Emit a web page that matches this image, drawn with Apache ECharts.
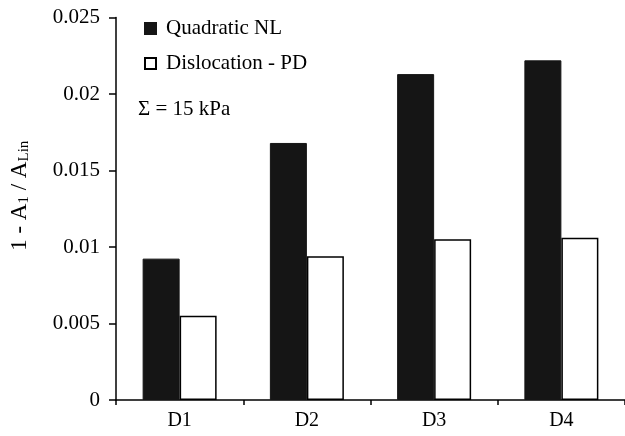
<!DOCTYPE html>
<html>
<head>
<meta charset="utf-8">
<script src="https://cdn.jsdelivr.net/npm/echarts@6/dist/echarts.min.js"></script>
<style>
  html, body { margin: 0; padding: 0; background: #fff; }
  #chart { width: 625px; height: 436px; }
</style>
</head>
<body>
<div id="chart"></div>
<script>
const categories = ['D1', 'D2', 'D3', 'D4']
const quadraticNL = [0.00924, 0.0168, 0.0213, 0.0222]
const dislocationPD = [0.0055, 0.0094, 0.0105, 0.0106]

const font = 'Liberation Serif'
const chart = echarts.init(document.getElementById('chart'))

const option = {
  backgroundColor: '#fff',
  animation: false,
  textStyle: { fontFamily: font, color: '#000' },
  grid: { left: 116, right: 0, top: 17.5, bottom: 36, outerBoundsMode: 'none' },
  legend: {
    orient: 'vertical',
    left: 144,
    top: 18,
    padding: 0,
    icon: 'rect',
    itemWidth: 11,
    itemHeight: 11,
    itemGap: 14,
    textStyle: { fontFamily: font, fontSize: 21, color: '#000', padding: [0, 0, 0, 5] },
    data: ['Quadratic NL', 'Dislocation - PD']
  },
  title: {
    text: 'Σ = 15 kPa',
    left: 133,
    top: 94,
    textStyle: { fontFamily: font, fontSize: 21, fontWeight: 'normal', color: '#000' }
  },
  xAxis: {
    type: 'category',
    data: categories,
    axisLine: { lineStyle: { color: '#000', width: 1.5 } },
    axisTick: { show: true, length: 5, lineStyle: { color: '#000', width: 1.5 } },
    axisLabel: { fontFamily: font, fontSize: 20, color: '#000', margin: 11 }
  },
  yAxis: {
    type: 'value',
    min: 0,
    max: 0.025,
    interval: 0.005,
    name: '{t|1 - A}{s|1}{t| / A}{s|Lin}',
    nameLocation: 'middle',
    nameRotate: 90,
    nameGap: 84,
    nameTextStyle: {
      padding: [0, 0, 0, 26],
      rich: {
        t: { fontFamily: font, fontSize: 23, color: '#000' },
        s: { fontFamily: font, fontSize: 15, color: '#000', padding: [9, 0, 0, 0] }
      }
    },
    splitLine: { show: false },
    axisLine: { show: true, lineStyle: { color: '#000', width: 1.5 } },
    axisTick: { show: true, length: 7, lineStyle: { color: '#000', width: 1.5 } },
    axisLabel: { fontFamily: font, fontSize: 21, color: '#000', margin: 16 }
  },
  series: [
    {
      name: 'Quadratic NL',
      type: 'bar',
      data: quadraticNL,
      barWidth: 37,
      barGap: 0,
      itemStyle: { color: '#151515', borderColor: '#151515', borderWidth: 1 }
    },
    {
      name: 'Dislocation - PD',
      type: 'bar',
      data: dislocationPD,
      barWidth: 37,
      itemStyle: { color: '#fff', borderColor: '#000', borderWidth: 1.5 }
    }
  ]
}

chart.setOption(option)
</script>
</body>
</html>
